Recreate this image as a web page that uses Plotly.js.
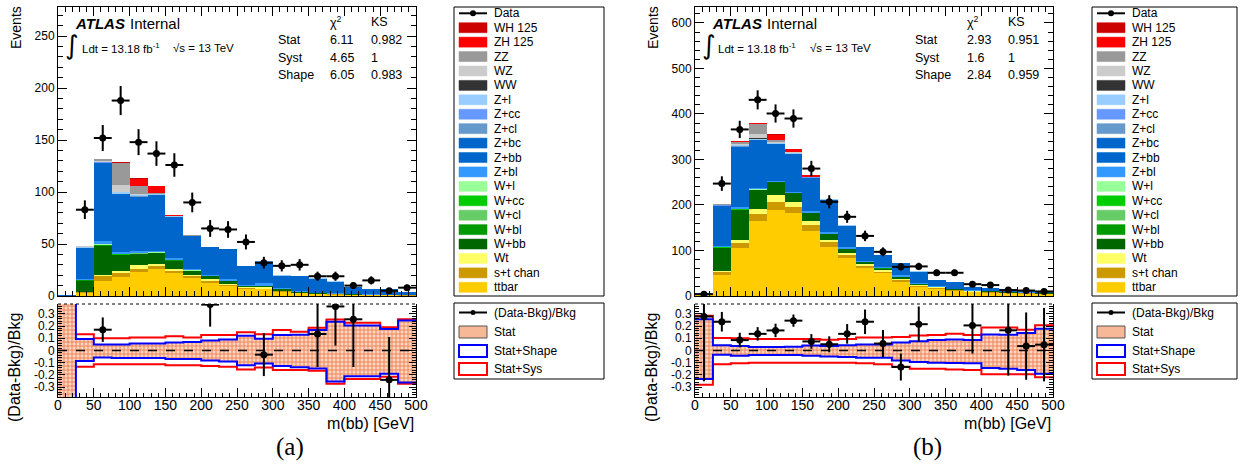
<!DOCTYPE html>
<html><head><meta charset="utf-8">
<script src="https://cdn.plot.ly/plotly-3.0.1.min.js"></script>
<style>html,body{margin:0;padding:0;background:#fff}#chart{width:1245px;height:469px}</style>
</head><body><div id="chart"></div>
<script>
// ---------------- DATA ----------------
const binEdges = [0,25,50,75,100,125,150,175,200,225,250,275,300,325,350,375,400,425,450,475,500];
const procNames = ['ttbar','s+t chan','Wt','W+bb','W+bl','W+cl','W+cc','W+l','Z+bl','Z+bb','Z+bc','Z+cl','Z+cc','Z+l','WW','WZ','ZZ','ZH 125','WH 125'];
const procColors = ['#ffcc00','#cc9900','#ffff66','#006600','#009900','#66cc66','#00cc00','#99ff99','#3399ff','#0066cc','#0066cc','#6699cc','#6699ff','#99ccff','#333333','#cccccc','#999999','#ff0000','#cc0000'];

// panel (a)
const a_data    = [null,83,152,188,148,137,126,90,65,64,52,32,29,30,19,19,10,15,5,8];
const a_dataErr = [0,9,12.5,14,12.5,11.8,11.3,9.5,8.1,8,7.2,5.7,5.4,5.5,4.4,4.4,3.2,3.9,2.2,2.8];
const a_ttbar  = [0.2,3.0,14.5,18.7,23.5,25.8,22.0,17.0,12.9,9.7,7.0,6.5,3.9,2.6,2.0,1.3,1.0,0.8,0.6,0.4];
const a_stchan = [0,0.5,4.5,3.9,2.3,2.6,2.5,2.4,1.9,0.9,0.6,0.6,0.6,0.3,0.2,0.2,0.1,0.1,0.1,0.1];
const a_Wt     = [0,0.3,1.0,1.2,3.6,2.2,1.3,1.0,1.3,0.6,0.6,1.3,0.6,0.3,0.2,0.2,0.1,0.1,0.1,0.1];
const a_Wbb    = [0,11.0,28.0,15.5,11.0,10.5,8.3,3.7,3.0,3.3,1.6,1.1,1.7,0.7,0.6,0.5,0.3,0.3,0.2,0.2];
const a_Wbl    = [0,0.3,0.6,0.4,0.4,0.3,0.3,0.2,0.2,0.1,0.1,0.1,0.1,0,0,0,0,0,0,0];
const a_Wcl    = [0,0.1,0.3,0.2,0.2,0.2,0.1,0.1,0.1,0.1,0,0,0,0,0,0,0,0,0,0];
const a_Wcc    = [0,0.2,0.5,0.3,0.3,0.2,0.2,0.1,0.1,0.1,0.1,0,0,0,0,0,0,0,0,0];
const a_Wl     = [0,0.2,0.6,0.3,0.3,0.3,0.2,0.2,0.1,0.1,0.1,0.1,0,0,0,0,0,0,0,0];
const a_Zbl    = [0,1.2,2.8,1.8,1.5,1.0,1.2,1.2,0.6,1.2,0.6,2.6,0.6,0.6,0.3,0.3,0.3,0.3,0.3,0.2];
const a_Zbb    = [0.3,28.7,73.4,54.4,51.4,52.9,39.1,30.9,26.3,28.4,17.4,20.4,12.0,14.7,13.3,11.3,6.7,4.8,5.1,2.5];
const a_Zbc    = [0,0.5,1.5,1.0,1.0,1.0,0.8,0.6,0.5,0.5,0.3,0.3,0.2,0.2,0.2,0.1,0.1,0.1,0.1,0];
const a_Zcl    = [0,0.2,0.4,0.3,0.3,0.3,0.2,0.2,0.1,0.1,0.1,0.1,0,0,0,0,0,0,0,0];
const a_Zcc    = [0,0.2,0.4,0.3,0.3,0.3,0.2,0.2,0.1,0.1,0.1,0.1,0,0,0,0,0,0,0,0];
const a_Zl     = [0,0.3,0.6,1.6,0.6,0.5,0.4,0.3,0.3,0.3,0.2,0.2,0.1,0.1,0.1,0.1,0,0,0,0];
const a_WW     = [0,0,0.2,0.3,0.2,0.1,0,0,0,0,0,0,0,0,0,0,0,0,0,0];
const a_WZ     = [0,1.3,0.8,6.2,1.6,0.3,0.2,0.1,0,0,0,0,0,0,0,0,0,0,0,0];
const a_ZZ     = [0,0.2,2.0,21.5,7.0,0.5,0.2,0.1,0,0,0,0,0,0,0,0,0,0,0,0];
const a_ZH     = [0,0,0,0.5,7.5,6.5,0.6,0.2,0.1,0,0,0,0,0,0,0,0,0,0,0];
const a_WH     = [0,0,0,0.1,0.3,0.3,0.1,0,0,0,0,0,0,0,0,0,0,0,0,0];
const a_ratio    = [null,null,0.17,null,null,null,null,null,0.375,null,null,-0.034,null,null,0.135,0.36,0.255,null,-0.24,null];
const a_ratioErr = [0,0,0.1,0,0,0,0,0,0.18,0,0,0.175,0,0,0.27,0.32,0.39,0,0.35,0];
const a_statUp  = [0.5,0.09,0.047,0.047,0.054,0.054,0.062,0.067,0.079,0.087,0.117,0.093,0.124,0.126,0.165,0.23,0.2,0.2,0.172,0.24];
const a_statDn  = [-0.5,-0.082,-0.054,-0.059,-0.059,-0.059,-0.067,-0.067,-0.079,-0.087,-0.117,-0.104,-0.124,-0.133,-0.144,-0.25,-0.207,-0.207,-0.184,-0.26];
const a_shapeUp = [0.5,0.093,0.05,0.05,0.057,0.057,0.065,0.07,0.082,0.09,0.12,0.096,0.127,0.128,0.168,0.234,0.205,0.205,0.175,0.245];
const a_shapeDn = [-0.5,-0.085,-0.057,-0.062,-0.062,-0.062,-0.07,-0.07,-0.082,-0.09,-0.12,-0.107,-0.127,-0.136,-0.147,-0.254,-0.211,-0.211,-0.19,-0.262];
const a_sysUp   = [null,0.133,0.10,0.10,0.107,0.107,0.116,0.107,0.127,0.127,0.15,0.133,0.167,0.154,0.186,0.253,0.226,0.226,0.19,0.256];
const a_sysDn   = [null,-0.133,-0.113,-0.113,-0.113,-0.113,-0.12,-0.12,-0.127,-0.133,-0.156,-0.139,-0.16,-0.16,-0.166,-0.272,-0.232,-0.232,-0.214,-0.272];

// panel (b)
const b_data    = [4,247,366,431,401,390,280,207,174,132,97,64,65,51,51,26,24,13,12,10];
const b_dataErr = [2.5,16,19,21,20,20,17,14.5,13.2,11.5,9.8,8,8.1,7.1,7.1,5.1,4.9,3.6,3.5,3.2];
const b_ttbar  = [4.0,46,104.6,164.6,188.7,181.4,143.4,108,82.7,60.7,49.7,31.5,20.5,16,11,8,7.3,5.8,5.1,4.4];
const b_stchan = [0.5,7,12.4,16.4,16.9,14.6,11.6,10,7.3,5.3,3.7,2.9,2.2,1.5,1.5,1.2,1.0,0.8,0.7,0.6];
const b_Wt     = [0.3,2.6,7,10,16,11,9,6,5,3.5,3.6,2.2,1.4,1.2,1,0.8,0.6,0.5,0.4,0.3];
const b_Wbb    = [0.5,50,64,41,28,18.5,18,12,8.3,5,3.3,5.3,2,1.8,1.5,1.5,1.2,1,0.8,0.7];
const b_Wbl    = [0,0.6,1,0.8,0.6,0.5,0.4,0.3,0.3,0.2,0.2,0.2,0.1,0.1,0.1,0,0,0,0,0];
const b_Wcl    = [0,0.3,0.5,0.4,0.3,0.3,0.2,0.2,0.1,0.1,0.1,0.1,0,0,0,0,0,0,0,0];
const b_Wcc    = [0,0.4,0.7,0.5,0.4,0.4,0.3,0.2,0.2,0.1,0.1,0.1,0,0,0,0,0,0,0,0];
const b_Wl     = [0,0.5,0.8,0.6,0.5,0.4,0.3,0.3,0.2,0.2,0.1,0.1,0.1,0,0,0,0,0,0,0];
const b_Zbl    = [0.3,2.5,5,3.5,2,2.2,3,3,3,2.5,3.7,3,2.5,2,1.3,1,0.8,0.8,0.8,0.8];
const b_Zbb    = [1.4,87.1,130,102.2,78.1,80.8,72.3,69.7,45.7,28.7,25,25.9,24.3,12.2,14.4,7.4,6,6,5.1,4.8];
const b_Zbc    = [0,1,2,2,1.5,1.5,1.2,1,0.8,0.5,0.5,0.4,0.3,0.2,0.2,0.1,0.1,0.1,0.1,0.1];
const b_Zcl    = [0,0.5,0.8,0.7,0.6,0.6,0.5,0.4,0.3,0.2,0.2,0.2,0.1,0.1,0.1,0,0,0,0,0];
const b_Zcc    = [0,0.5,0.8,0.7,0.6,0.6,0.5,0.4,0.3,0.2,0.2,0.2,0.1,0.1,0.1,0,0,0,0,0];
const b_Zl     = [0,1,2,2.5,1.5,1.5,1,1,0.8,0.6,0.6,0.5,0.4,0.3,0.3,0.2,0.2,0.1,0.1,0.1];
const b_WW     = [0,0.2,0.5,0.6,0.5,0.3,0.2,0.1,0,0,0,0,0,0,0,0,0,0,0,0];
const b_WZ     = [0,0.5,1.5,9.5,3,0.8,0.3,0.2,0.1,0,0,0,0,0,0,0,0,0,0,0];
const b_ZZ     = [0,1,5,22,3,0.5,0.3,0.2,0,0,0,0,0,0,0,0,0,0,0,0];
const b_ZH     = [0,1,2,2.5,12,7,2.5,1,0.3,0.1,0,0,0,0,0,0,0,0,0,0];
const b_WH     = [0,0.3,0.3,0.4,1,0.8,0.4,0.2,0.1,0,0,0,0,0,0,0,0,0,0,0];
const b_ratio    = [0.278,0.235,0.085,0.136,0.164,0.244,0.074,0.051,0.136,0.235,0.057,-0.135,0.215,null,null,0.205,null,0.165,0.036,0.048];
const b_ratioErr = [0.53,0.08,0.06,0.055,0.055,0.05,0.06,0.065,0.08,0.1,0.11,0.11,0.145,0,0,0.23,0,0.37,0.275,0.3];
const b_statUp  = [0.25,0.038,0.033,0.025,0.025,0.027,0.036,0.033,0.038,0.046,0.046,0.061,0.072,0.081,0.086,0.081,0.125,0.123,0.137,0.172];
const b_statDn  = [-0.228,-0.031,-0.038,-0.033,-0.033,-0.033,-0.038,-0.046,-0.05,-0.056,-0.056,-0.078,-0.089,-0.096,-0.098,-0.101,-0.137,-0.145,-0.155,-0.185];
const b_shapeUp = [0.255,0.042,0.037,0.028,0.028,0.03,0.04,0.037,0.042,0.05,0.05,0.065,0.076,0.085,0.09,0.085,0.13,0.128,0.142,0.178];
const b_shapeDn = [-0.232,-0.034,-0.042,-0.037,-0.037,-0.037,-0.042,-0.05,-0.054,-0.06,-0.06,-0.082,-0.093,-0.1,-0.102,-0.105,-0.142,-0.15,-0.16,-0.19];
const b_sysUp   = [0.283,0.102,0.10,0.093,0.093,0.093,0.093,0.088,0.093,0.107,0.107,0.11,0.122,0.127,0.136,0.127,0.187,0.187,0.17,0.207];
const b_sysDn   = [-0.28,-0.113,-0.105,-0.1,-0.1,-0.1,-0.1,-0.1,-0.1,-0.105,-0.113,-0.133,-0.15,-0.15,-0.156,-0.16,-0.195,-0.195,-0.195,-0.218];

const a_stack = [a_ttbar,a_stchan,a_Wt,a_Wbb,a_Wbl,a_Wcl,a_Wcc,a_Wl,a_Zbl,a_Zbb,a_Zbc,a_Zcl,a_Zcc,a_Zl,a_WW,a_WZ,a_ZZ,a_ZH,a_WH];
const b_stack = [b_ttbar,b_stchan,b_Wt,b_Wbb,b_Wbl,b_Wcl,b_Wcc,b_Wl,b_Zbl,b_Zbb,b_Zbc,b_Zcl,b_Zcc,b_Zl,b_WW,b_WZ,b_ZZ,b_ZH,b_WH];

const panelA = {label:'(a)', chi:[['Stat','6.11','0.982'],['Syst','4.65','1'],['Shape','6.05','0.983']]};
const panelB = {label:'(b)', chi:[['Stat','2.93','0.951'],['Syst','1.6','1'],['Shape','2.84','0.959']]};

// ---------------- BUILD ----------------
const W = 1245, H = 469;
const px = x => x / W, py = y => 1 - y / H;
const FONT = 'Liberation Sans, Arial, Helvetica, sans-serif';
const centers = binEdges.slice(0,-1).map((e,i)=>(e+binEdges[i+1])/2);
const widths  = binEdges.slice(0,-1).map((e,i)=>binEdges[i+1]-e);
const halfW   = widths.map(w=>w/2);
const stepY = arr => arr.concat([arr[arr.length-1]]);

const traces = [];
function addPanel(stack, data, dataErr, ratio, ratioErr, statUp, statDn, shapeUp, shapeDn, sysUp, sysDn, xa, ya, xr, yr) {
  stack.forEach((vals,i)=>{
    traces.push({type:'bar', x:centers, y:vals, width:widths, xaxis:xa, yaxis:ya,
      marker:{color:procColors[i], line:{width:0}}, showlegend:false, hoverinfo:'skip', name:procNames[i]});
  });
  traces.push({type:'scatter', mode:'markers', x:centers, y:data, xaxis:xa, yaxis:ya, showlegend:false,
    marker:{color:'black', size:7},
    error_y:{type:'data', array:dataErr, color:'black', thickness:2, width:0},
    error_x:{type:'data', array:halfW, color:'black', thickness:2, width:0}});
  traces.push({type:'scatter', mode:'lines', x:binEdges, y:stepY(statUp), xaxis:xr, yaxis:yr, showlegend:false,
    line:{shape:'hv', width:0, color:'rgba(0,0,0,0)'}});
  traces.push({type:'scatter', mode:'lines', x:binEdges, y:stepY(statDn), xaxis:xr, yaxis:yr, showlegend:false,
    line:{shape:'hv', width:0, color:'rgba(0,0,0,0)'}, fill:'tonexty', fillcolor:'#f9c6aa',
    fillpattern:{shape:'+', fgcolor:'#ec7f4e', bgcolor:'#fcd6c2', size:4, solidity:0.4}});
  [[sysUp,'#ff0000'],[sysDn,'#ff0000'],[shapeUp,'#0000ff'],[shapeDn,'#0000ff']].forEach(([arr,c])=>{
    traces.push({type:'scatter', mode:'lines', x:binEdges, y:stepY(arr), xaxis:xr, yaxis:yr, showlegend:false,
      connectgaps:false, line:{shape:'hv', width:2, color:c}});
  });
  traces.push({type:'scatter', mode:'lines', x:[binEdges[0], binEdges[binEdges.length-1]], y:[0,0], xaxis:xr, yaxis:yr,
    showlegend:false, line:{color:'black', width:1.5, dash:'dash'}});
  traces.push({type:'scatter', mode:'markers', x:centers, y:ratio, xaxis:xr, yaxis:yr, showlegend:false,
    marker:{color:'black', size:7},
    error_y:{type:'data', array:ratioErr, color:'black', thickness:2, width:0},
    error_x:{type:'data', array:halfW, color:'black', thickness:2, width:0}});
}
addPanel(a_stack, a_data, a_dataErr, a_ratio, a_ratioErr, a_statUp, a_statDn, a_shapeUp, a_shapeDn, a_sysUp, a_sysDn, 'x','y','x2','y2');
addPanel(b_stack, b_data, b_dataErr, b_ratio, b_ratioErr, b_statUp, b_statDn, b_shapeUp, b_shapeDn, b_sysUp, b_sysDn, 'x3','y3','x4','y4');

function ax(o){
  return Object.assign({showline:true, linecolor:'black', linewidth:1, mirror:'allticks', ticks:'inside', ticklen:9,
    tickcolor:'black', tickwidth:1, showgrid:false, zeroline:false,
    tickfont:{family:FONT, size:12, color:'black'}}, o);
}
const topY = [py(296), py(7)], ratY = [py(397), py(304)];
const leftX = [px(58), px(416)], rightX = [px(695), px(1053)];
const ratioTicks = {tickmode:'array', tickvals:[-0.3,-0.2,-0.1,0,0.1,0.2,0.3], ticktext:['-0.3','-0.2','-0.1','0','0.1','0.2','0.3']};

const layout = {
  width:W, height:H, margin:{l:0,r:0,t:0,b:0}, paper_bgcolor:'white', plot_bgcolor:'white',
  barmode:'stack', bargap:0, hovermode:false, showlegend:false,
  xaxis: ax({domain:leftX, range:[0,500], anchor:'y', dtick:50, showticklabels:false, minor:{ticks:'inside', ticklen:5, dtick:10, tickcolor:'black'}}),
  yaxis: ax({domain:topY, range:[0,278], anchor:'x', dtick:50, minor:{ticks:'inside', ticklen:5, dtick:10, tickcolor:'black'}}),
  xaxis2: ax({domain:leftX, range:[0,500], anchor:'y2', dtick:50, mirror:false, ticklabelstandoff:-5, tickfont:{family:FONT,size:14,color:'black'}, minor:{ticks:'inside', ticklen:4, dtick:10, tickcolor:'black'}}),
  yaxis2: Object.assign(ax({domain:ratY, range:[-0.38,0.38], anchor:'x2', tickfont:{family:FONT,size:12,color:'black'}, ticklen:7, minor:{ticks:'inside', ticklen:4, tickmode:'linear', tick0:0, dtick:0.02, tickcolor:'black'}}), ratioTicks),
  xaxis3: ax({domain:rightX, range:[0,500], anchor:'y3', dtick:50, showticklabels:false, minor:{ticks:'inside', ticklen:5, dtick:10, tickcolor:'black'}}),
  yaxis3: ax({domain:topY, range:[0,635], anchor:'x3', dtick:100, minor:{ticks:'inside', ticklen:5, dtick:20, tickcolor:'black'}}),
  xaxis4: ax({domain:rightX, range:[0,500], anchor:'y4', dtick:50, mirror:false, ticklabelstandoff:-5, tickfont:{family:FONT,size:14,color:'black'}, minor:{ticks:'inside', ticklen:4, dtick:10, tickcolor:'black'}}),
  yaxis4: Object.assign(ax({domain:ratY, range:[-0.38,0.38], anchor:'x4', tickfont:{family:FONT,size:12,color:'black'}, ticklen:7, minor:{ticks:'inside', ticklen:4, tickmode:'linear', tick0:0, dtick:0.02, tickcolor:'black'}}), ratioTicks),
  shapes:[], annotations:[]
};
const S = layout.shapes, A = layout.annotations;
function txt(x, y, t, size, opts){
  A.push(Object.assign({xref:'paper', yref:'paper', x:px(x), y:py(y), text:t, showarrow:false,
    xanchor:'left', yanchor:'middle', font:{family:FONT, size:size, color:'black'}}, opts||{}));
}
function rect(x0,y0,x1,y1,fill,lc,lw){
  S.push({type:'rect', xref:'paper', yref:'paper', x0:px(x0), x1:px(x1), y0:py(y1), y1:py(y0),
    fillcolor:fill, line:{color:lc, width:lw}});
}

function decorate(ox, pxRight, panel){
  S.push({type:'line', xref:'paper', yref:'paper', x0:px(ox), x1:px(pxRight), y0:py(304), y1:py(304), line:{color:'black', width:1, dash:'dot'}});
  txt(ox+15, 23, '<b><i>ATLAS</i></b>', 15);
  txt(ox+70, 23, 'Internal', 15);
  txt(ox+21.5, 45, '∫', 26, {xanchor:'right', borderpad:0, font:{family:'DejaVu Sans, '+FONT, size:26, color:'black'}});
  txt(ox+22.5, 48, 'Ldt = 13.18 fb<sup>-1</sup>', 11.5, {borderpad:0});
  txt(ox+113, 48, '√s = 13 TeV', 11.5);
  const cx0 = ox+218, cx1 = ox+270, cx2 = ox+311;
  txt(cx1, 22, 'χ<sup>2</sup>', 12.5);
  txt(cx2, 22, 'KS', 12.5);
  panel.chi.forEach((r,i)=>{
    const y = 40 + i*17.7;
    txt(cx0, y, r[0], 12.5); txt(cx1, y, r[1], 12.5); txt(cx2, y, r[2], 12.5);
  });
  txt(ox-42, 28, 'Events', 14, {textangle:-90, xanchor:'center'});
  txt(ox-44, 368, '(Data-Bkg)/Bkg', 16, {textangle:-90, xanchor:'center'});
  txt(pxRight, 423, 'm(bb) [GeV]', 16, {xanchor:'right'});
  A.push({xref:'paper', yref:'paper', x:px((ox+pxRight)/2 + 53), y:py(447), text:panel.label, showarrow:false,
    xanchor:'center', yanchor:'middle', font:{family:'Liberation Serif, DejaVu Serif, serif', size:25, color:'black'}});
}
decorate(58, 416, panelA);
decorate(695, 1053, panelB);

function legends(bx0, bx1){
  rect(bx0, 7, bx1, 296, 'white', 'black', 1);
  const sx0 = bx0+5, sx1 = bx0+33, tx = bx0+38;
  const rowH = (287.3-13.3)/19;
  let y = 13.3;
  S.push({type:'line', xref:'paper', yref:'paper', x0:px(sx0), x1:px(sx1), y0:py(y), y1:py(y), line:{color:'black', width:2}});
  S.push({type:'circle', xref:'paper', yref:'paper', x0:px((sx0+sx1)/2-3), x1:px((sx0+sx1)/2+3), y0:py(y+3), y1:py(y-3), fillcolor:'black', line:{color:'black', width:0}});
  txt(tx, y, 'Data', 12);
  for (let k=procNames.length-1, r=1; k>=0; k--, r++){
    y = 13.3 + r*rowH;
    rect(sx0, y-5, sx1, y+5, procColors[k], procColors[k], 0.5);
    txt(tx, y, procNames[k], 12);
  }
  rect(bx0, 303, bx1, 379, 'white', 'black', 1);
  y = 312.5;
  S.push({type:'line', xref:'paper', yref:'paper', x0:px(sx0), x1:px(sx1), y0:py(y), y1:py(y), line:{color:'black', width:2}});
  S.push({type:'circle', xref:'paper', yref:'paper', x0:px((sx0+sx1)/2-2.5), x1:px((sx0+sx1)/2+2.5), y0:py(y+2.5), y1:py(y-2.5), fillcolor:'black', line:{color:'black', width:0}});
  txt(tx, y, '(Data-Bkg)/Bkg', 12);
  rect(sx0, 326, sx1, 338, '#f6b896', '#555555', 1); txt(tx, 332, 'Stat', 12);
  rect(sx0, 345, sx1, 357, 'white', '#0000ff', 2); txt(tx, 351, 'Stat+Shape', 12);
  rect(sx0, 363, sx1, 375, 'white', '#ff0000', 2); txt(tx, 369, 'Stat+Sys', 12);
}
legends(454, 604);
legends(1092, 1237);

Plotly.newPlot('chart', traces, layout, {staticPlot:true, displayModeBar:false});
</script></body></html>
